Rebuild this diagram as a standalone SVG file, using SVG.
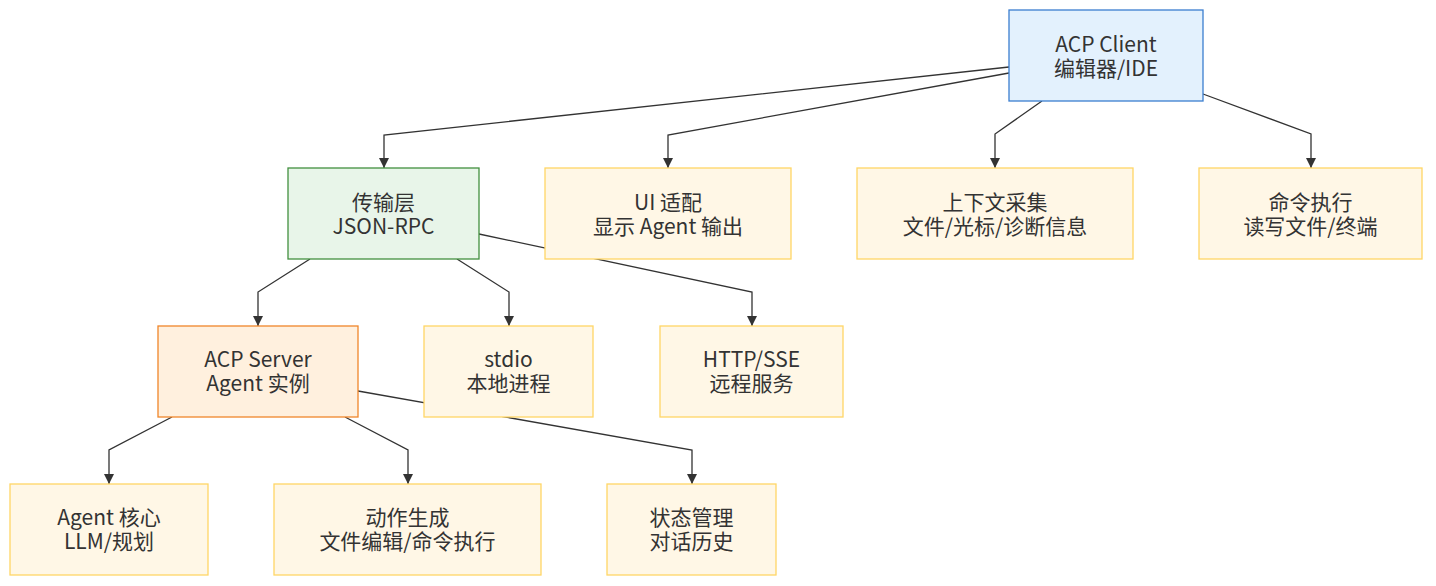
<svg xmlns="http://www.w3.org/2000/svg" width="1436" height="586" viewBox="0 0 1436 586">
<style>
.edge{fill:none;stroke:#333;stroke-width:1.3}
.box rect{stroke-width:1.3}
.y rect{fill:#fff7e6;stroke:#ffd666}
.client rect{fill:#e3f1fd;stroke:#3b7ed0}
.trans rect{fill:#e8f5e9;stroke:#43903f}
.server rect{fill:#fff0de;stroke:#f0862a}
text{font-family:"Noto Sans CJK SC","Microsoft YaHei",sans-serif;font-size:21px;fill:#333;text-anchor:middle}
</style>
<defs>
<marker id="arr" viewBox="0 0 10 10" refX="10" refY="5" markerWidth="10" markerHeight="10" markerUnits="userSpaceOnUse" orient="auto">
<path d="M0,0 L10,5 L0,10 z" fill="#333"/>
</marker>
</defs>
<g id="connectors">
<polyline class="edge" marker-end="url(#arr)" points="1009,67 384,135 384,168"/>
<polyline class="edge" marker-end="url(#arr)" points="1009,73 668,135 668,168"/>
<polyline class="edge" marker-end="url(#arr)" points="1042,101 995,134 995,168"/>
<polyline class="edge" marker-end="url(#arr)" points="1203,94 1311,134 1311,168"/>
<polyline class="edge" marker-end="url(#arr)" points="310,259 258,292 258,326"/>
<polyline class="edge" marker-end="url(#arr)" points="457,259 509,292 509,326"/>
<polyline class="edge" marker-end="url(#arr)" points="479,234 752,292 752,326"/>
<polyline class="edge" marker-end="url(#arr)" points="172,417 109,450 109,484"/>
<polyline class="edge" marker-end="url(#arr)" points="345,417 408,450 408,484"/>
<polyline class="edge" marker-end="url(#arr)" points="358,391 692,450 692,484"/>
</g>
<g id="client" class="box client"><rect x="1009" y="10" width="194" height="91"/><text x="1106" y="52">ACP Client<tspan x="1106" dy="24">编辑器/IDE</tspan></text></g>
<g id="transport" class="box trans"><rect x="288" y="168" width="191" height="91"/><text x="383.5" y="210">传输层<tspan x="383.5" dy="24">JSON-RPC</tspan></text></g>
<g id="ui" class="box y"><rect x="545" y="168" width="246" height="91"/><text x="668" y="210">UI 适配<tspan x="668" dy="24">显示 Agent 输出</tspan></text></g>
<g id="context" class="box y"><rect x="857" y="168" width="276" height="91"/><text x="995" y="210">上下文采集<tspan x="995" dy="24">文件/光标/诊断信息</tspan></text></g>
<g id="cmd" class="box y"><rect x="1199" y="168" width="223" height="91"/><text x="1310.5" y="210">命令执行<tspan x="1310.5" dy="24">读写文件/终端</tspan></text></g>
<g id="server" class="box server"><rect x="158" y="326" width="200" height="91"/><text x="258" y="367">ACP Server<tspan x="258" dy="24">Agent 实例</tspan></text></g>
<g id="stdio" class="box y"><rect x="424" y="326" width="169" height="91"/><text x="508.5" y="367">stdio<tspan x="508.5" dy="24">本地进程</tspan></text></g>
<g id="http" class="box y"><rect x="660" y="326" width="183" height="91"/><text x="751.5" y="367">HTTP/SSE<tspan x="751.5" dy="24">远程服务</tspan></text></g>
<g id="core" class="box y"><rect x="10" y="484" width="198" height="91"/><text x="109" y="525">Agent 核心<tspan x="109" dy="24">LLM/规划</tspan></text></g>
<g id="action" class="box y"><rect x="274" y="484" width="267" height="91"/><text x="407.5" y="525">动作生成<tspan x="407.5" dy="24">文件编辑/命令执行</tspan></text></g>
<g id="state" class="box y"><rect x="607" y="484" width="169" height="91"/><text x="691.5" y="525">状态管理<tspan x="691.5" dy="24">对话历史</tspan></text></g>
</svg>
